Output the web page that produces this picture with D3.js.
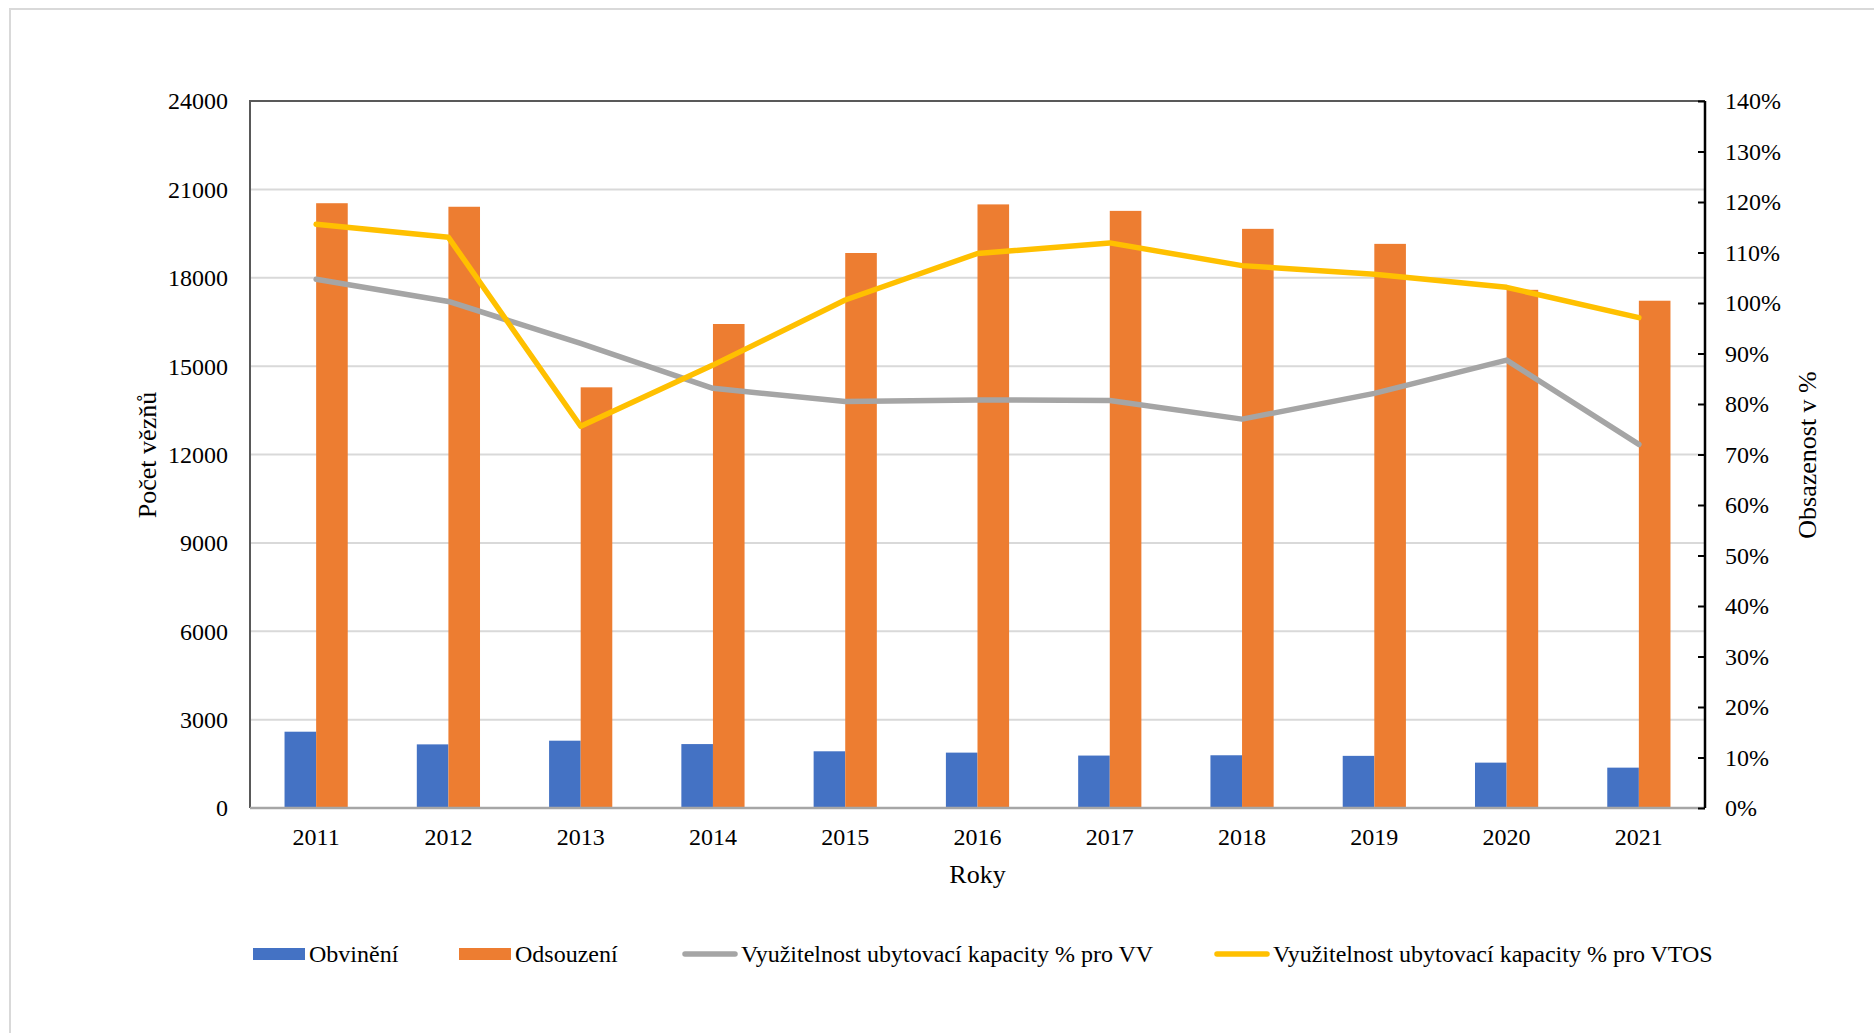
<!DOCTYPE html>
<html>
<head>
<meta charset="utf-8">
<script src="https://cdn.jsdelivr.net/npm/d3@7"></script>
<style>
  body { margin: 0; background: #fff; }
  svg { font-family: "Liberation Serif", "Times New Roman", serif; }
</style>
</head>
<body>
<svg width="1874" height="1033"></svg>
<script>
// data
var years = ["2011", "2012", "2013", "2014", "2015", "2016", "2017", "2018", "2019", "2020", "2021"];
var obvineni = [2590, 2160, 2285, 2170, 1925, 1880, 1780, 1790, 1770, 1540, 1370];
var odsouzeni = [20530, 20410, 14280, 16430, 18840, 20490, 20270, 19660, 19150, 17590, 17220];
var vyuzitVV = [104.7, 100.3, 92.0, 83.1, 80.5, 80.8, 80.7, 77.0, 82.1, 88.7, 72.0];
var vyuzitVTOS = [115.6, 113.0, 75.6, 87.7, 100.6, 109.8, 111.9, 107.4, 105.7, 103.1, 97.1];
var leftTicks = [0, 3000, 6000, 9000, 12000, 15000, 18000, 21000, 24000];
var rightTicks = d3.range(0, 141, 10);
var legendNames = ["Obvinění", "Odsouzení", "Využitelnost ubytovací kapacity % pro VV", "Využitelnost ubytovací kapacity % pro VTOS"];

var svg = d3.select("svg");
var m = { left: 250, right: 1705, top: 101, bottom: 808 };

// outer frame (only top and left are visible)
svg.append("path")
    .attr("d", "M10,1033 V9 H1874")
    .attr("fill", "none")
    .attr("stroke", "#d9d9d9")
    .attr("stroke-width", 2);

var x = d3.scaleBand().domain(years).range([m.left, m.right]);
var xInner = d3.scaleBand().domain(["obv", "ods"]).range([0, 63.2]);
var y = d3.scaleLinear().domain([0, 24000]).range([m.bottom, m.top]);
var y2 = d3.scaleLinear().domain([0, 140]).range([m.bottom, m.top]);

// gridlines
svg.append("g")
  .selectAll("line")
  .data(leftTicks.slice(1))
  .enter().append("line")
    .attr("x1", m.left).attr("x2", m.right)
    .attr("y1", function(d) { return y(d); })
    .attr("y2", function(d) { return y(d); })
    .attr("stroke", "#d9d9d9")
    .attr("stroke-width", 2);

// bars
var groups = svg.append("g").selectAll("g")
  .data(years)
  .enter().append("g")
    .attr("transform", function(d) { return "translate(" + (x(d) + x.bandwidth() / 2 - 31.6) + ",0)"; });

groups.append("rect")
    .attr("x", xInner("obv"))
    .attr("width", xInner.bandwidth())
    .attr("y", function(d, i) { return y(obvineni[i]); })
    .attr("height", function(d, i) { return m.bottom - y(obvineni[i]); })
    .attr("fill", "#4472c4");

groups.append("rect")
    .attr("x", xInner("ods"))
    .attr("width", xInner.bandwidth())
    .attr("y", function(d, i) { return y(odsouzeni[i]); })
    .attr("height", function(d, i) { return m.bottom - y(odsouzeni[i]); })
    .attr("fill", "#ed7d31");

// lines on secondary axis
var line = d3.line()
    .x(function(d, i) { return x(years[i]) + x.bandwidth() / 2; })
    .y(function(d) { return y2(d); });

svg.append("path")
    .datum(vyuzitVV)
    .attr("d", line)
    .attr("fill", "none")
    .attr("stroke", "#a5a5a5")
    .attr("stroke-width", 5.5)
    .attr("stroke-linejoin", "round")
    .attr("stroke-linecap", "round");

svg.append("path")
    .datum(vyuzitVTOS)
    .attr("d", line)
    .attr("fill", "none")
    .attr("stroke", "#ffc000")
    .attr("stroke-width", 5.5)
    .attr("stroke-linejoin", "round")
    .attr("stroke-linecap", "round");

// plot borders / axes lines
svg.append("path")
    .attr("d", "M" + m.left + "," + m.bottom + " V" + m.top + " H" + m.right)
    .attr("fill", "none")
    .attr("stroke", "#595959")
    .attr("stroke-width", 2);

svg.append("line")
    .attr("x1", m.left).attr("x2", m.right)
    .attr("y1", m.bottom).attr("y2", m.bottom)
    .attr("stroke", "#a6a6a6")
    .attr("stroke-width", 2.5);

// left axis labels
svg.append("g")
  .selectAll("text")
  .data(leftTicks)
  .enter().append("text")
    .attr("x", 228)
    .attr("y", function(d) { return y(d); })
    .attr("dy", "0.35em")
    .attr("text-anchor", "end")
    .attr("font-size", 24)
    .attr("fill", "#000")
    .text(function(d) { return d; });

// right axis
var gr = svg.append("g").attr("transform", "translate(" + m.right + ",0)");
gr.call(d3.axisLeft(y2)
    .tickValues(rightTicks)
    .tickSize(7)
    .tickFormat(""));
gr.select(".domain").attr("stroke", "#000").attr("stroke-width", 2.5).attr("d", "M0," + m.top + "V" + m.bottom);
gr.selectAll(".tick line").attr("stroke", "#000").attr("stroke-width", 2);

svg.append("g")
  .selectAll("text")
  .data(rightTicks)
  .enter().append("text")
    .attr("x", 1725)
    .attr("y", function(d) { return y2(d); })
    .attr("dy", "0.35em")
    .attr("font-size", 24)
    .attr("fill", "#000")
    .text(function(d) { return d + "%"; });

// x labels
svg.append("g")
  .selectAll("text")
  .data(years)
  .enter().append("text")
    .attr("x", function(d) { return x(d) + x.bandwidth() / 2; })
    .attr("y", 845)
    .attr("text-anchor", "middle")
    .attr("font-size", 24)
    .attr("fill", "#000")
    .text(function(d) { return d; });

// axis titles
svg.append("text")
    .attr("x", (m.left + m.right) / 2)
    .attr("y", 883)
    .attr("text-anchor", "middle")
    .attr("font-size", 26)
    .text("Roky");

svg.append("text")
    .attr("transform", "translate(156,455) rotate(-90)")
    .attr("text-anchor", "middle")
    .attr("font-size", 26)
    .text("Počet vězňů");

svg.append("text")
    .attr("transform", "translate(1816,455) rotate(-90)")
    .attr("text-anchor", "middle")
    .attr("font-size", 26)
    .text("Obsazenost v %");

// legend
var legendX = [253, 459, 682, 1214];
var legendColors = ["#4472c4", "#ed7d31", "#a5a5a5", "#ffc000"];
var lg = svg.append("g").selectAll("g")
  .data(legendNames)
  .enter().append("g")
    .attr("transform", function(d, i) { return "translate(" + legendX[i] + ",954)"; });

lg.each(function(d, i) {
  var g = d3.select(this);
  if (i < 2) {
    g.append("rect")
        .attr("x", 0).attr("y", -6)
        .attr("width", 52).attr("height", 12)
        .attr("fill", legendColors[i]);
  } else {
    g.append("line")
        .attr("x1", 3).attr("x2", 53)
        .attr("y1", 0).attr("y2", 0)
        .attr("stroke", legendColors[i])
        .attr("stroke-width", 5.5)
        .attr("stroke-linecap", "round");
  }
  g.append("text")
      .attr("x", i < 2 ? 56 : 59)
      .attr("dy", "0.35em")
      .attr("font-size", 24)
      .text(d);
});
</script>
</body>
</html>
